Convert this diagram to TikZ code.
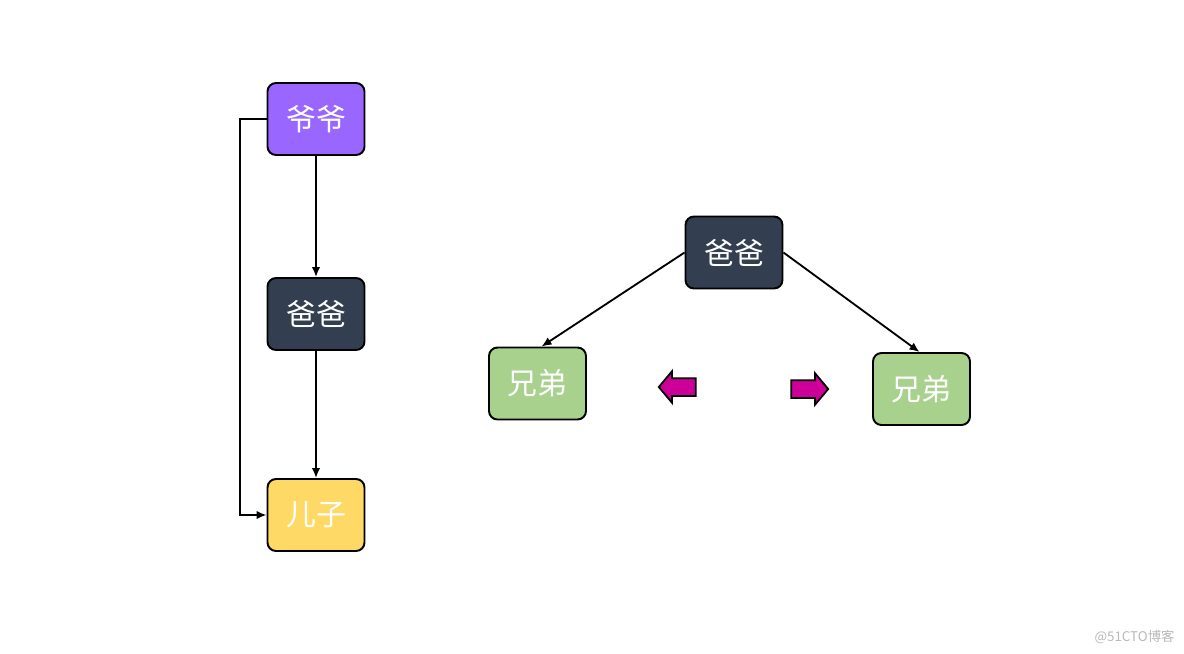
\documentclass[tikz,border=0pt]{standalone}
\usepackage{fontspec}
\newfontfamily\cjk{Noto Sans CJK SC}
\usepackage{xcolor}
\usetikzlibrary{arrows.meta,positioning,calc,shapes.arrows}

\definecolor{grandpa}{HTML}{9966FF}
\definecolor{dad}{HTML}{333F50}
\definecolor{kid}{HTML}{FFD966}
\definecolor{bro}{HTML}{A9D18E}
\definecolor{hint}{HTML}{CC0099}

\begin{document}
\begin{tikzpicture}[x=0.02cm,y=-0.02cm,
	box/.style={draw=black,line width=1.1pt,rounded corners=0.17cm,minimum width=1.94cm,minimum height=1.44cm,text=white,font=\cjk\fontsize{17}{20}\selectfont},
	link/.style={-{Latex[length=2mm,width=1.7mm]},line width=1.05pt},
	hintarrow/.style={single arrow,draw=black,line width=1pt,fill=hint,minimum height=0.74cm,single arrow head extend=0.14cm,single arrow tip angle=100,inner xsep=0pt,inner ysep=0.16cm}]
	\useasboundingbox (0,0) rectangle (1184,653);
	
	% left: three generations
	\node[box,fill=grandpa] (yeye) at (316,119) {爷爷};
	\node[box,fill=dad] (baba1) at (316,314) {爸爸};
	\node[box,fill=kid] (erzi) at (316,515) {儿子};
	\coordinate (bend1) at (240,119);
	\coordinate (bend2) at (240,515);
	
	\draw[link] (yeye)--(baba1);
	\draw[link] (baba1)--(erzi);
	\draw[link] (yeye.west)--(bend1)--(bend2)--(erzi.west);
	
	% right: father and two brothers
	\node[box,fill=dad] (baba2) at (734,252.5) {爸爸};
	\node[box,fill=bro] (xiong1) at (537.5,383.5) {兄弟};
	\node[box,fill=bro] (xiong2) at (921.5,389) {兄弟};
	
	\draw[link] (baba2.west)--($(xiong1.north)+(4,0)$);
	\draw[link] (baba2.east)--($(xiong2.north)+(-2,0)$);
	
	\node[hintarrow,shape border rotate=180] (toleft) at (681,387) {};
	\node[hintarrow] (toright) at (806,389) {};
	
	\node[text=gray!55,font=\cjk\fontsize{7.6}{9}\selectfont] (mark) at (1134.5,637) {@51CTO博客};
\end{tikzpicture}
\end{document}
